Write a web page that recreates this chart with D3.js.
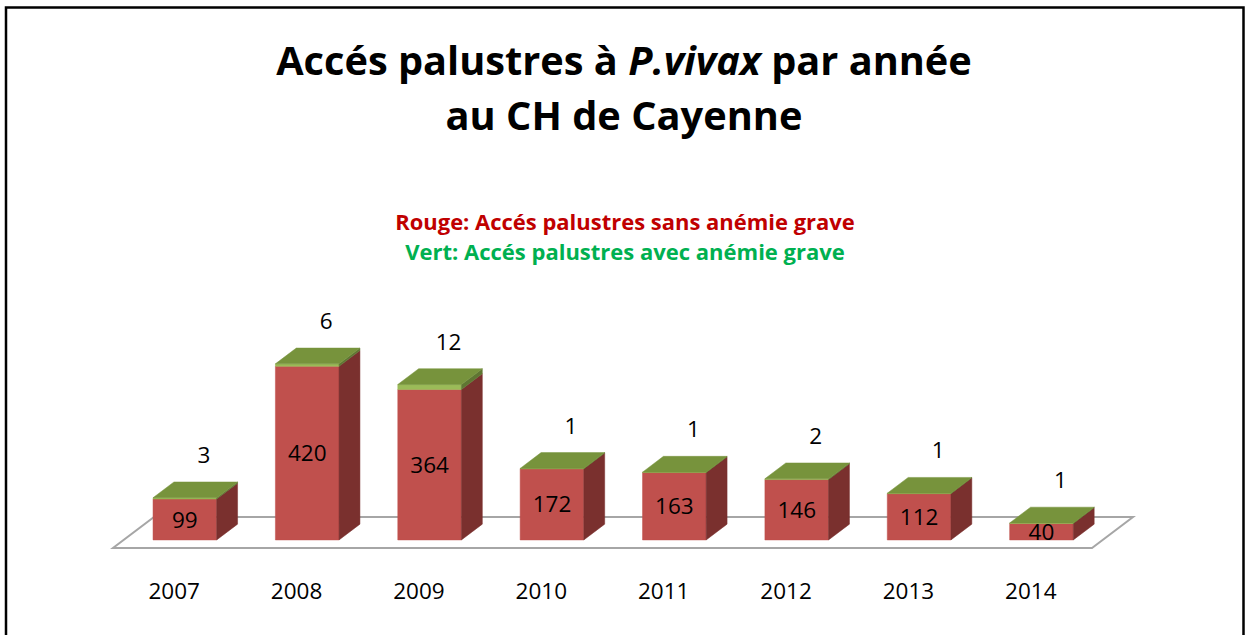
<!DOCTYPE html>
<html>
<head>
<meta charset="utf-8">
<script src="https://cdn.jsdelivr.net/npm/d3@7/dist/d3.min.js"></script>
<style>
  html, body { margin: 0; padding: 0; background: #fff; }
  svg { display: block; }
</style>
</head>
<body>
<svg id="chart" width="1247" height="635"></svg>
<script>
// ---- data ----
const years = ["2007", "2008", "2009", "2010", "2011", "2012", "2013", "2014"];
const sansAnemie = [99, 420, 364, 172, 163, 146, 112, 40];   // rouge
const avecAnemie = [3, 6, 12, 1, 1, 2, 1, 1];                 // vert
const titleLine1 = ["Accés palustres à ", "P.vivax", " par année"];
const titleLine2 = "au CH de Cayenne";
const legendRouge = "Rouge: Accés palustres sans anémie grave";
const legendVert = "Vert: Accés palustres avec anémie grave";

// ---- layout ----
const W = 1247, H = 635;
const svg = d3.select("#chart");
const FONT = "'Open Sans', 'Lato', sans-serif";

const colors = {
  redFront: "#C0504D", redSide: "#7A302E",
  greenFront: "#9BBB59", greenSide: "#5F7632", greenTop: "#77933C",
  floor: "#A6A6A6"
};

// border (open at bottom)
svg.append("path")
  .attr("d", `M6,${H + 5} V7.5 H1243.5 V${H + 5}`)
  .attr("fill", "none").attr("stroke", "#000").attr("stroke-width", 2.5);

function fitText(sel, targetW) {
  const w = sel.node().getComputedTextLength();
  const fs = parseFloat(sel.attr("font-size"));
  sel.attr("font-size", fs * targetW / w);
}

// title
const t1 = svg.append("text").attr("x", 624).attr("y", 75)
  .attr("text-anchor", "middle").attr("font-family", FONT)
  .attr("font-weight", "bold").attr("font-size", 38).attr("fill", "#000");
titleLine1.forEach((s, i) => {
  t1.append("tspan").text(s).attr("font-style", i === 1 ? "italic" : "normal");
});
fitText(t1, 696);
const t2 = svg.append("text").attr("x", 624).attr("y", 130)
  .attr("text-anchor", "middle").attr("font-family", FONT)
  .attr("font-weight", "bold").attr("font-size", 38).attr("fill", "#000")
  .text(titleLine2);
fitText(t2, 357);

// legend text
const l1 = svg.append("text").attr("x", 625).attr("y", 230)
  .attr("text-anchor", "middle").attr("font-family", FONT)
  .attr("font-weight", "bold").attr("font-size", 20).attr("fill", "#C00000")
  .text(legendRouge);
fitText(l1, 460);
const l2 = svg.append("text").attr("x", 625).attr("y", 260)
  .attr("text-anchor", "middle").attr("font-family", FONT)
  .attr("font-weight", "bold").attr("font-size", 20).attr("fill", "#00B050")
  .text(legendVert);
fitText(l2, 440);

// ---- 3D bar geometry ----
const floorY = 548;                 // front edge of floor
const D = { x: 41, y: -31 };        // floor depth vector
const f0 = 0.26, f1 = 0.77;         // bar depth range (fractions of floor depth)

const x = d3.scaleBand().domain(years).range([113, 1092])
  .paddingInner(0.48).paddingOuter(0.24);
const y = d3.scaleLinear().domain([0, 450]).range([0, 186]); // value -> height px

// floor
const xL = 113, xR = 1092;
svg.append("path")
  .attr("d", `M${xL},${floorY} L${xR},${floorY} L${xR + D.x},${floorY + D.y} L${xL + D.x},${floorY + D.y} Z`)
  .attr("fill", "#fff").attr("stroke", colors.floor).attr("stroke-width", 2);

const bdx = (f1 - f0) * D.x, bdy = (f1 - f0) * D.y;

const data = years.map((yr, i) => ({ yr, red: sansAnemie[i], green: avecAnemie[i] }));

const bars = svg.append("g").selectAll("g").data(data).join("g");

bars.each(function (d) {
  const g = d3.select(this);
  const x0 = x(d.yr) + f0 * D.x;
  const x1 = x0 + x.bandwidth();
  const base = floorY + f0 * D.y;
  const yRedTop = base - y(d.red);
  const yTop = base - y(d.red + d.green);

  const face = (pts, fill) => g.append("path")
    .attr("d", "M" + pts.map(p => p.join(",")).join("L") + "Z")
    .attr("fill", fill).attr("stroke", fill).attr("stroke-width", 0.5);

  // red segment
  face([[x0, base], [x1, base], [x1, yRedTop], [x0, yRedTop]], colors.redFront);
  face([[x1, base], [x1 + bdx, base + bdy], [x1 + bdx, yRedTop + bdy], [x1, yRedTop]], colors.redSide);
  // green segment
  face([[x0, yRedTop], [x1, yRedTop], [x1, yTop], [x0, yTop]], colors.greenFront);
  face([[x1, yRedTop], [x1 + bdx, yRedTop + bdy], [x1 + bdx, yTop + bdy], [x1, yTop]], colors.greenSide);
  face([[x0, yTop], [x1, yTop], [x1 + bdx, yTop + bdy], [x0 + bdx, yTop + bdy]], colors.greenTop);

  // labels
  g.append("text")
    .attr("x", (x0 + x1) / 2).attr("y", (base + yRedTop) / 2)
    .attr("dy", "0.36em").attr("text-anchor", "middle")
    .attr("font-family", FONT).attr("font-size", 22.5).attr("fill", "#000")
    .text(d.red);
  g.append("text")
    .attr("x", (x0 + x1) / 2 + 19).attr("y", yTop - 43)
    .attr("dy", "0.36em").attr("text-anchor", "middle")
    .attr("font-family", FONT).attr("font-size", 22.5).attr("fill", "#000")
    .text(d.green);
});

// category axis
const axis = d3.axisBottom(x).tickSize(0).tickPadding(0);
const ax = svg.append("g").attr("transform", `translate(0,${floorY})`).call(axis);
ax.select(".domain").remove();
ax.selectAll("text")
  .attr("y", 51).attr("dy", 0)
  .attr("font-family", FONT).attr("font-size", 22.5).attr("fill", "#000");
</script>
</body>
</html>
